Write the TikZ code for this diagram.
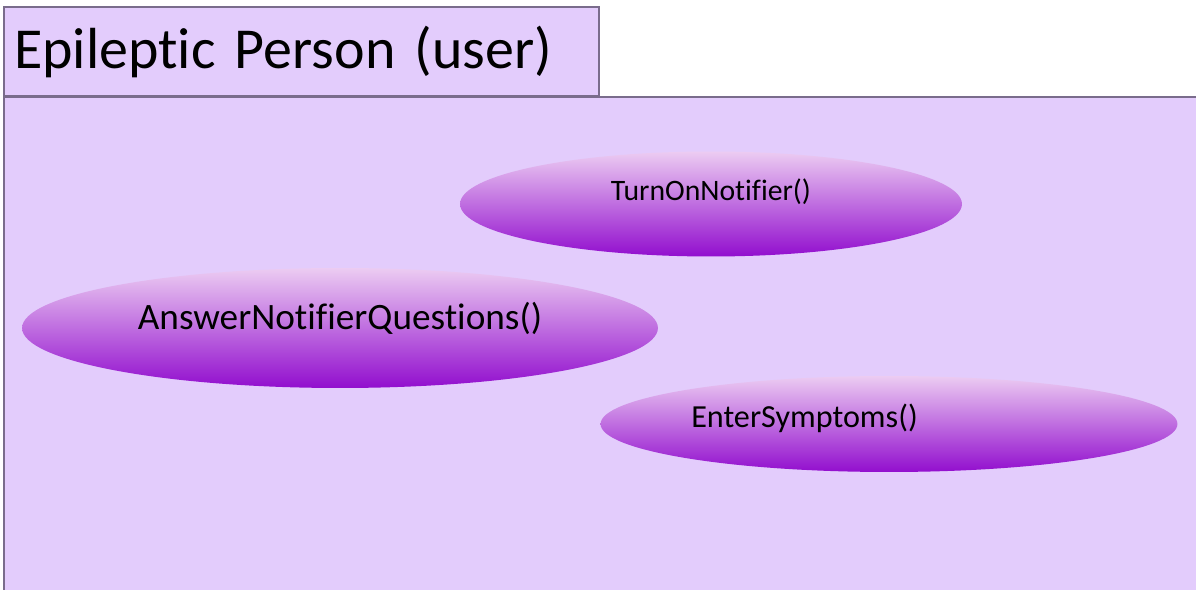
\documentclass[tikz,border=0pt]{standalone}
\usepackage{fontspec}
\setmainfont{Carlito}[Ligatures=NoCommon]
\usepackage{tikz}
\usetikzlibrary{shapes}
\usetikzlibrary{positioning}
\definecolor{frameFillColor}{RGB}{227,204,252}
\definecolor{frameLineColor}{RGB}{122,108,140}
\definecolor{caseTopColor}{RGB}{236,204,242}
\definecolor{caseBottomColor}{RGB}{146,14,206}
\tikzstyle{actorbox} = [draw=frameLineColor,line width=1.2pt,fill=frameFillColor,rectangle]
\tikzstyle{usecase} = [ellipse,inner sep=0pt,top color=caseTopColor,bottom color=caseBottomColor]

\begin{document}
\begin{tikzpicture}[x=0.02cm,y=-0.02cm]
%
\useasboundingbox (0,0) rectangle (1196,590);

% system frame
\fill [frameFillColor] (4,97) rectangle (1196,590);
\coordinate (frameNE) at (1196,97);
\coordinate (frameNW) at (4,97);
\coordinate (frameSW) at (4,590);
\draw [frameLineColor,line width=1.2pt] (frameNE) -- (frameNW) -- (frameSW);

\node (actor) [actorbox,anchor=north west,minimum width=11.9cm,minimum height=1.78cm,
  inner xsep=0.18cm,text width=11.5cm,align=left,font=\fontsize{33}{40}\selectfont] at (3,6) {Epileptic Person (user)};

\node (turnOn) [usecase,minimum width=10.04cm,minimum height=2.1cm,
  label={[yshift=0.24cm,font=\fontsize{16.9}{20}\selectfont]center:TurnOnNotifier()}] at (711,204) {};
\node (answer) [usecase,minimum width=12.72cm,minimum height=2.4cm,
  label={[yshift=0.2cm,font=\fontsize{21.2}{25}\selectfont]center:AnswerNotifierQuestions()}] at (340,328) {};
\node (symptoms) [usecase,minimum width=11.54cm,minimum height=1.92cm,
  label={[xshift=-1.69cm,yshift=0.12cm,font=\fontsize{18.3}{22}\selectfont]center:EnterSymptoms()}] at (889,424) {};
\end{tikzpicture}
\end{document}
